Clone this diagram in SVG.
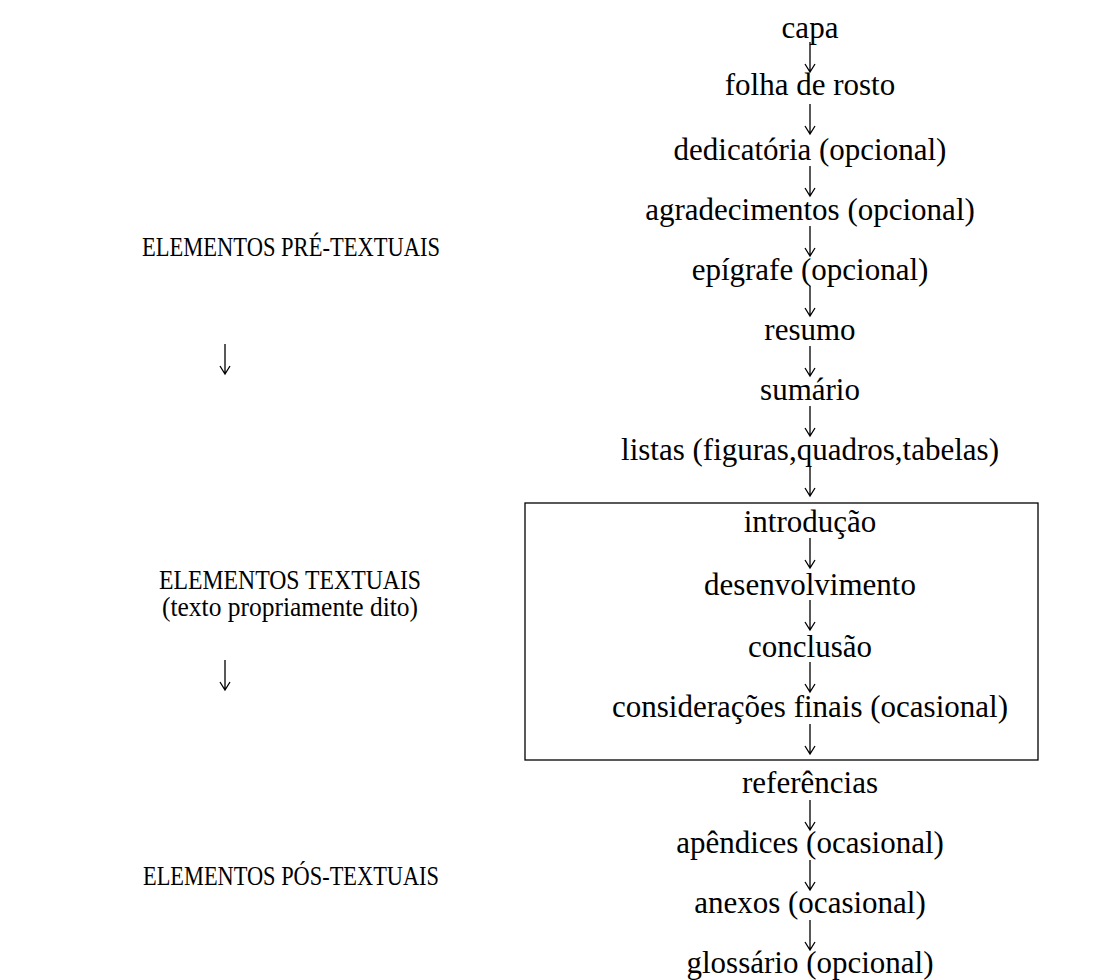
<svg xmlns="http://www.w3.org/2000/svg" width="1120" height="980" viewBox="0 0 1120 980">
<style>
text{font-family:"Liberation Serif","Times New Roman",serif;fill:#000;}
.r{font-size:31px;text-anchor:middle;}
.l{font-size:26.5px;text-anchor:middle;}
.arr{fill:none;stroke:#000;stroke-width:1.3;}
</style>
<defs>
<path id="a" d="M0,0 V30 M-5,22 L0,30 L5,22"/>
</defs>
<rect width="1120" height="980" fill="#fff"/>
<g id="left">
<g id="pre"><text class="l" x="291" y="256" textLength="298" lengthAdjust="spacingAndGlyphs">ELEMENTOS PRÉ-TEXTUAIS</text></g>
<g id="textuais"><text class="l" x="290" y="589" textLength="262" lengthAdjust="spacingAndGlyphs">ELEMENTOS TEXTUAIS</text><text class="l" x="290" y="616" textLength="256" lengthAdjust="spacingAndGlyphs">(texto propriamente dito)</text></g>
<g id="pos"><text class="l" x="291" y="885" textLength="296" lengthAdjust="spacingAndGlyphs">ELEMENTOS PÓS-TEXTUAIS</text></g>
</g>
<g id="box"><rect x="525" y="503" width="513" height="257" fill="none" stroke="#000" stroke-width="1.3"/></g>
<g id="capa"><text class="r" x="810" y="38">capa</text></g>
<g id="folha"><text class="r" x="810" y="95">folha de rosto</text></g>
<g id="dedicatoria"><text class="r" x="810" y="160">dedicatória (opcional)</text></g>
<g id="agradecimentos"><text class="r" x="810" y="220">agradecimentos (opcional)</text></g>
<g id="epigrafe"><text class="r" x="810" y="280">epígrafe (opcional)</text></g>
<g id="resumo"><text class="r" x="810" y="340">resumo</text></g>
<g id="sumario"><text class="r" x="810" y="400">sumário</text></g>
<g id="listas"><text class="r" x="810" y="460">listas (figuras,quadros,tabelas)</text></g>
<g id="introducao"><text class="r" x="810" y="532">introdução</text></g>
<g id="desenvolvimento"><text class="r" x="810" y="595">desenvolvimento</text></g>
<g id="conclusao"><text class="r" x="810" y="657">conclusão</text></g>
<g id="consideracoes"><text class="r" x="810" y="717">considerações finais (ocasional)</text></g>
<g id="referencias"><text class="r" x="810" y="793">referências</text></g>
<g id="apendices"><text class="r" x="810" y="853">apêndices (ocasional)</text></g>
<g id="anexos"><text class="r" x="810" y="913">anexos (ocasional)</text></g>
<g id="glossario"><text class="r" x="810" y="973">glossário (opcional)</text></g>
<g id="connectors" class="arr">
<use href="#a" x="810" y="42"/>
<use href="#a" x="810" y="104"/>
<use href="#a" x="810" y="166"/>
<use href="#a" x="810" y="226"/>
<use href="#a" x="810" y="286"/>
<use href="#a" x="810" y="346"/>
<use href="#a" x="810" y="406"/>
<use href="#a" x="810" y="466"/>
<use href="#a" x="810" y="538"/>
<use href="#a" x="810" y="600"/>
<use href="#a" x="810" y="662"/>
<use href="#a" x="810" y="724"/>
<use href="#a" x="810" y="800"/>
<use href="#a" x="810" y="860"/>
<use href="#a" x="810" y="920"/>
<use href="#a" x="225" y="344"/>
<use href="#a" x="225" y="660"/>
</g>
</svg>
